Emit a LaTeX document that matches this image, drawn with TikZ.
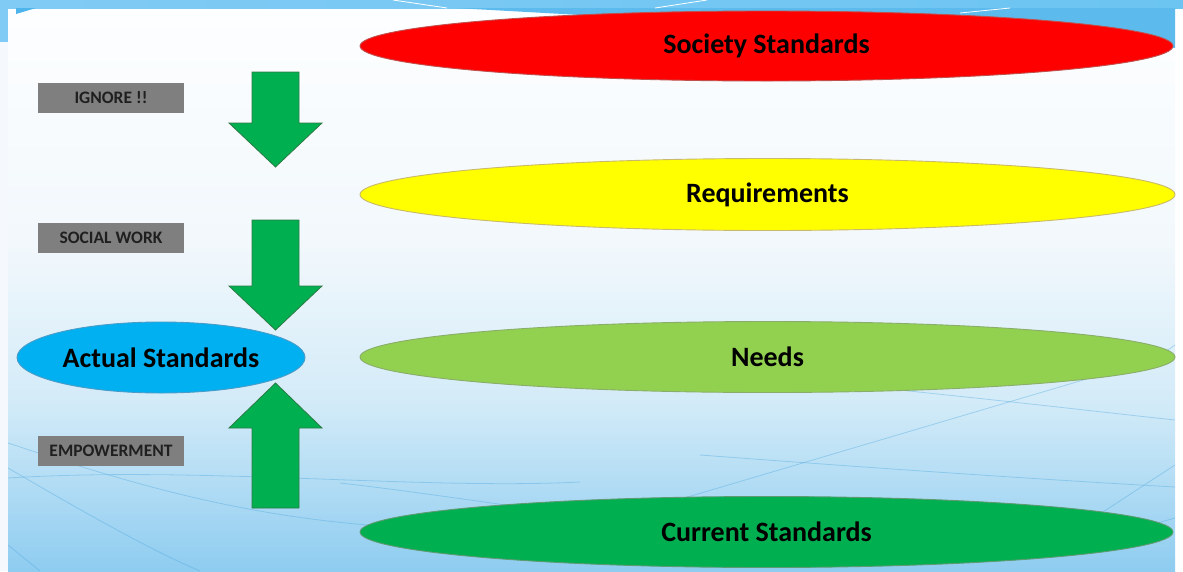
\documentclass[tikz,border=0pt]{standalone}
\usepackage{fontspec}
\setmainfont{Carlito}
\usetikzlibrary{shapes.geometric}
\definecolor{pbot}{HTML}{8ECCF0}
\definecolor{pmid}{HTML}{D3EBF8}
\definecolor{plight}{HTML}{F2F8FC}
\definecolor{ptop}{HTML}{FDFEFF}
\definecolor{bandL}{HTML}{80CBF5}
\definecolor{bandM}{HTML}{4DB5EC}
\definecolor{bandR}{HTML}{6CC4F1}
\definecolor{wedgeblue}{HTML}{5CBAEC}
\definecolor{stripwhite}{HTML}{F5F9FD}
\definecolor{curveblue}{HTML}{4FA8DE}
\definecolor{agreen}{HTML}{00B050}
\definecolor{adark}{HTML}{2E7A45}
\definecolor{sred}{HTML}{FF0000}
\definecolor{sreddark}{HTML}{C0504D}
\definecolor{syellow}{HTML}{FFFF00}
\definecolor{syellowdark}{HTML}{C9B96A}
\definecolor{slgreen}{HTML}{92D050}
\definecolor{slgreendark}{HTML}{8AAE6A}
\definecolor{sgreendark}{HTML}{5E9A72}
\definecolor{sblue}{HTML}{00B0F0}
\definecolor{sbluedark}{HTML}{4A9CC8}
\definecolor{tagfill}{HTML}{7F7F7F}
\definecolor{tagtext}{HTML}{1F1F1F}
\pgfdeclareverticalshading{panelshade}{100bp}{color(0bp)=(pbot); color(25bp)=(pbot); color(40bp)=(pmid); color(54bp)=(plight); color(75bp)=(ptop); color(100bp)=(ptop)}
\tikzset{
  oval/.style={ellipse, inner sep=0pt, line width=0.9pt, font=\fontsize{28}{30}\selectfont\bfseries, text=black},
  tag/.style={rectangle, fill=tagfill, inner sep=0pt, minimum width=146, minimum height=30, font=\fontsize{17.5}{19}\selectfont\bfseries, text=tagtext},
  blockarrow/.style={fill=agreen, draw=adark, line width=0.8pt, line join=miter},
  bgcurve/.style={draw=curveblue, opacity=0.4, line width=0.8pt},
  bandline/.style={draw=white, line width=0.8pt}
}
\begin{document}
\begin{tikzpicture}[x=1pt,y=-1pt]
\useasboundingbox (0,0) rectangle (1183,571);
% background
\fill[white] (0,0) rectangle (1183,571);
\fill[stripwhite] (0,42) rectangle (8,571);
\shade[shading=panelshade] (8,8) rectangle (1175,571);
\shade[left color=bandL, middle color=bandM, right color=bandR] (0,0) rectangle (1183,8);
\fill[bandL] (0,0) rectangle (8,42);
\fill[wedgeblue] (455,8) -- (1175,8) -- (1175,48) -- cycle;
\fill[bandM] (16,8) -- (36,8) -- (16,14) -- cycle;
\draw[bandline] (393,0) -- (447,8);
\draw[bandline] (655,8) -- (707,0);
\draw[bandline] (960,13) -- (1010,8);
% background curves
\draw[bgcurve] (8,478) .. controls (200,466) and (420,490) .. (580,482);
\draw[bgcurve] (8,443) .. controls (120,480) and (250,522) .. (420,528);
\draw[bgcurve] (8,468) .. controls (80,510) and (150,550) .. (200,571);
\draw[bgcurve] (8,545) -- (40,571);
\draw[bgcurve] (340,483) .. controls (420,492) and (500,505) .. (560,512);
\draw[bgcurve] (620,517) -- (1090,378);
\draw[bgcurve] (700,455) .. controls (900,470) and (1050,480) .. (1175,487);
\draw[bgcurve] (850,385) .. controls (1000,400) and (1100,412) .. (1175,420);
\draw[bgcurve] (1060,540) -- (1175,465);
\draw[bgcurve] (1150,525) -- (1175,518);
\draw[bgcurve] (1165,352) -- (1175,345);
% ellipses
\node[oval, fill=sred, draw=sreddark, minimum width=813, minimum height=70] (soc) at (766.5,46) {Society Standards};
\node[oval, fill=syellow, draw=syellowdark, minimum width=815, minimum height=72] (req) at (767.5,194.5) {Requirements};
\node[oval, fill=slgreen, draw=slgreendark, minimum width=815, minimum height=71] (needs) at (767.5,357) {Needs};
\node[oval, fill=agreen, draw=sgreendark, minimum width=813, minimum height=71] (cur) at (766.5,532) {Current Standards};
\node[oval, fill=sblue, draw=sbluedark, minimum width=288, minimum height=71] (act) at (161,357.5) {Actual Standards};
% tags
\node[tag] (ign) at (111,98) {IGNORE !!};
\node[tag] (soc2) at (111,238) {SOCIAL WORK};
\node[tag] (emp) at (111,451) {EMPOWERMENT};
% block arrows
\draw[blockarrow] (252,72) -- (299,72) -- (299,123) -- (322,123) -- (275.5,167) -- (229,123) -- (252,123) -- cycle;
\draw[blockarrow] (252,220) -- (299,220) -- (299,286) -- (322,286) -- (275.5,330) -- (229,286) -- (252,286) -- cycle;
\draw[blockarrow] (252,508) -- (299,508) -- (299,428) -- (322,428) -- (275.5,383) -- (229,428) -- (252,428) -- cycle;
\end{tikzpicture}
\end{document}
